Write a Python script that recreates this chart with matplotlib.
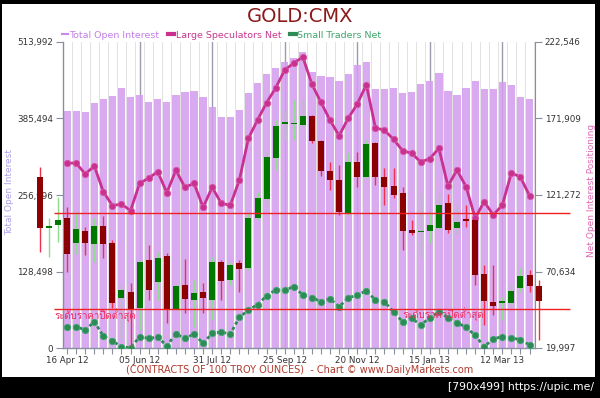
import numpy as np
import matplotlib
matplotlib.use('Agg')
import matplotlib.pyplot as plt
from matplotlib.lines import Line2D
from matplotlib.patches import Rectangle
from matplotlib import font_manager as fm

# ---------------- data ----------------
x_labels = ['16 Apr 12', '05 Jun 12', '31 Jul 12', '25 Sep 12', '20 Nov 12', '15 Jan 13', '12 Mar 13']
x_label_idx = [0, 8, 16, 24, 32, 40, 48]

total_open_interest = [
    398600, 398600, 396400, 412000, 418200, 423300, 436700, 421100, 424500, 412700,
    418800, 413700, 425500, 430000, 432200, 421100, 404300, 388500, 388500, 399300,
    427800, 445600, 460200, 470300, 480400, 487100, 497200, 463600, 456900, 455700,
    448500, 460700, 475300, 479900, 435000, 435000, 437200, 427800, 429500, 442900,
    449000, 462400, 431700, 425000, 436200, 448500, 435000, 435500, 446800, 442300,
    421100, 418200]

large_speculators_net = [
    142400, 142400, 135170, 140460, 123450, 114190, 115310, 110880, 129010, 132520,
    136690, 122790, 137620, 126360, 129010, 113130, 126360, 115770, 114450, 131200,
    158800, 170910, 182360, 192090, 204010, 208640, 212610, 194540, 182630, 170710,
    160520, 172040, 181500, 194280, 165810, 164090, 158140, 150590, 148870, 143110,
    145300, 152180, 127230, 137820, 126760, 106040, 116830, 108030, 114650, 136030,
    132980, 120800]

small_traders_net = [
    34100, 34100, 31910, 37410, 27940, 24630, 20860, 20050, 27480, 26420,
    27080, 21520, 29260, 26420, 29260, 23110, 29730, 30590, 29260, 40320,
    45150, 48660, 54610, 58390, 58390, 60570, 55080, 53420, 50640, 52630,
    47330, 53090, 55080, 57920, 51770, 50640, 43830, 37410, 39660, 35220,
    40050, 43830, 40050, 36740, 33700, 28400, 20860, 26150, 27480, 26620,
    25490, 21980]

# gold price candles (overlay), first candle three weeks before the first data point
candle_start = -3
candle_open = [
    1720, 1658, 1662, 1670, 1640, 1655, 1639, 1661, 1640, 1575,
    1581, 1563, 1620, 1594, 1625, 1561, 1590, 1572, 1582, 1572,
    1617, 1596, 1616, 1610, 1670, 1693, 1742, 1783, 1783, 1782,
    1793, 1763, 1727, 1716, 1675, 1738, 1720, 1760, 1719, 1709,
    1700, 1656, 1654, 1655, 1658, 1688, 1658, 1669, 1668, 1603,
    1570, 1569, 1568, 1586, 1602, 1589]
candle_close = [
    1658, 1661, 1668, 1627, 1657, 1640, 1661, 1639, 1568, 1584,
    1561, 1618, 1584, 1622, 1561, 1589, 1573, 1580, 1574, 1618,
    1595, 1614, 1609, 1670, 1694, 1743, 1781, 1785, 1784, 1793,
    1763, 1727, 1716, 1678, 1737, 1719, 1759, 1720, 1708, 1698,
    1655, 1653, 1655, 1662, 1686, 1656, 1666, 1667, 1602, 1571,
    1565, 1570, 1583, 1601, 1589, 1571]
candle_high = [
    1732, 1670, 1696, 1684, 1678, 1660, 1670, 1673, 1644, 1590,
    1592, 1620, 1638, 1630, 1629, 1590, 1621, 1596, 1592, 1624,
    1620, 1618, 1620, 1676, 1702, 1750, 1788, 1800, 1812, 1812,
    1794, 1764, 1738, 1734, 1748, 1750, 1764, 1761, 1730, 1730,
    1708, 1668, 1700, 1678, 1700, 1699, 1686, 1686, 1669, 1614,
    1614, 1576, 1592, 1610, 1608, 1596]
candle_low = [
    1630, 1624, 1642, 1606, 1627, 1626, 1618, 1622, 1562, 1524,
    1516, 1536, 1572, 1572, 1544, 1560, 1556, 1540, 1556, 1548,
    1572, 1590, 1582, 1608, 1668, 1686, 1728, 1764, 1764, 1780,
    1760, 1721, 1704, 1674, 1674, 1708, 1718, 1710, 1686, 1694,
    1632, 1650, 1622, 1640, 1656, 1652, 1650, 1660, 1590, 1542,
    1554, 1548, 1562, 1582, 1582, 1524]
lowest_close_levels = [1676, 1561]
lowest_close_label = 'ระดับราคาปิดต่ำสุด'

left_ticks = [0, 128498, 256996, 385494, 513992]
right_ticks = [19997, 70634, 121272, 171909, 222546]

series_names = ['Total Open Interest', 'Large Speculators Net', 'Small Traders Net']

# ---------------- fonts ----------------
def find_font_for(ch):
    try:
        from fontTools.ttLib import TTFont
    except Exception:
        return None
    seen = set()
    for f in fm.fontManager.ttflist:
        if f.fname in seen:
            continue
        seen.add(f.fname)
        try:
            tt = TTFont(f.fname, fontNumber=0, lazy=True)
            cmap = tt.getBestCmap()
            if cmap and ord(ch) in cmap:
                return f.name
        except Exception:
            continue
    return None

thai_font = find_font_for('ร')
thai_family = [thai_font, 'DejaVu Sans'] if thai_font else ['DejaVu Sans']

plt.rcParams['font.family'] = ['DejaVu Sans']

# ---------------- colours ----------------
bar_color = '#D49BEF'
pink = '#C8318F'
green = '#2E8B57'
title_color = '#8B1A1A'
tick_color = '#333333'
spine_color = '#8890A0'

fig = plt.figure(figsize=(6.0, 3.98), dpi=100, facecolor='black')
fig.patches.append(Rectangle((2 / 600, 21 / 398), 593 / 600, 373 / 398,
                             transform=fig.transFigure, facecolor='white',
                             edgecolor='none', zorder=-10))

ax = fig.add_axes([63 / 600, 50 / 398, 472 / 600, 306 / 398])
ax.set_facecolor('none')
n = len(total_open_interest)
xs = np.arange(n)

# grid lines
for i in range(-1, n):
    ax.axvline(i + 0.5, color='#E2E2E2', lw=0.7, zorder=0)
for i in x_label_idx[1:]:
    ax.axvline(i, color='#9C9CB0', lw=1.0, zorder=0)

ax.bar(xs, total_open_interest, width=0.8, color=bar_color, alpha=0.85, zorder=1)
ax.set_xlim(-0.45, 51.6)
ax.set_ylim(left_ticks[0], left_ticks[-1])
ax.set_yticks(left_ticks)
ax.set_yticklabels([f'{v:,}' for v in left_ticks])
ax.set_xticks(x_label_idx)
ax.set_xticklabels(x_labels)
ax.set_xticks(xs, minor=True)
ax.tick_params(axis='x', which='both', direction='out', length=4, width=0.8,
               color=spine_color, labelsize=6.3, labelcolor=tick_color, pad=2)
ax.tick_params(axis='y', direction='out', length=5, width=0.8, color=spine_color,
               labelsize=6.3, labelcolor=tick_color, pad=2)
for s in ['top', 'right']:
    ax.spines[s].set_visible(False)
for s in ['left', 'bottom']:
    ax.spines[s].set_color(spine_color)
    ax.spines[s].set_linewidth(1.0)

# right axis: net positions
ax2 = ax.twinx()
ax2.set_ylim(right_ticks[0], right_ticks[-1])
ax2.set_yticks(right_ticks)
ax2.set_yticklabels([f'{v:,}' for v in right_ticks])
ax2.tick_params(axis='y', direction='out', length=5, width=0.8, color=spine_color,
                labelsize=6.3, labelcolor=tick_color, pad=2)
for s in ['top', 'left', 'bottom']:
    ax2.spines[s].set_visible(False)
ax2.spines['right'].set_color(spine_color)
ax2.plot(xs, large_speculators_net, color=pink, lw=2.0, marker='o', ms=4.6,
         markeredgecolor='#D855A8', markeredgewidth=0.6, zorder=3)
ax2.plot(xs, small_traders_net, color=green, lw=2.0, linestyle=(0, (1.2, 1.0)),
         marker='o', ms=4.6, markeredgecolor='#3DA86C', markeredgewidth=0.6, zorder=3)

# overlay: gold candles
ax3 = ax.twinx()
ax3.set_ylim(1932 - 1.2 * 348, 1932 - 1.2 * 42)
ax3.axis('off')
cx = np.arange(candle_start, candle_start + len(candle_open))
for xi, o, h, l, c in zip(cx, candle_open, candle_high, candle_low, candle_close):
    up = c >= o
    wick = '#8EDC8E' if up else '#F0304A'
    body = '#007800' if up else '#8B0000'
    ax3.vlines(xi, l, h, color=wick, lw=1.0, zorder=4, clip_on=False)
    hgt = max(abs(c - o), 1.2)
    ax3.bar(xi, hgt, bottom=min(o, c), width=0.66, color=body, zorder=5, clip_on=False)

for lvl in lowest_close_levels:
    ax3.hlines(lvl, -1.4, 55.5, color='#F02020', lw=1.0, zorder=6, clip_on=False)

ax3.text(-1.35, 1553.4, lowest_close_label, family=thai_family, fontsize=7,
         color='#F0285A', va='center', ha='left', zorder=7, clip_on=False)
ax3.text(37.0, 1555.2, lowest_close_label, family=thai_family, fontsize=7,
         color='#F0285A', va='center', ha='left', zorder=7, clip_on=False)

# titles and labels
fig.text(0.5, 1 - 16 / 398, 'GOLD:CMX', ha='center', va='center', fontsize=14,
         color=title_color)
fig.text(10 / 600, 1 - 192 / 398, 'Total Open Interest', rotation=90, ha='center',
         va='center', fontsize=6.5, color='#A8A0E6')
fig.text(591 / 600, 1 - 190 / 398, 'Net Open Interest Positioning', rotation=90,
         ha='center', va='center', fontsize=6.5, color='#E068B4')
fig.text(300 / 600, 1 - 370 / 398,
         '(CONTRACTS OF 100 TROY OUNCES)  - Chart \u00a9 www.DailyMarkets.com',
         ha='center', va='center', fontsize=7, color='#B03A2E')
fig.text(594 / 600, 1 - 387 / 398, '[790x499] https://upic.me/', ha='right',
         va='center', fontsize=7.8, color='white',
         family=['Liberation Sans Narrow', 'DejaVu Sans'])

handles = [Line2D([0], [0], color='#CC88EE', lw=1.5),
           Line2D([0], [0], color=pink, lw=3),
           Line2D([0], [0], color=green, lw=3)]
leg = fig.legend(handles, series_names, loc='center left',
                 bbox_to_anchor=(62 / 600, 1 - 35 / 398), ncol=3, frameon=False,
                 fontsize=6.8, handlelength=0.6, handletextpad=0.2,
                 columnspacing=0.9, borderaxespad=0, borderpad=0)
for t, c in zip(leg.get_texts(), ['#C47FE6', '#C8378F', '#3EA56A']):
    t.set_color(c)

fig.savefig('out.png', dpi=100, facecolor='black')
